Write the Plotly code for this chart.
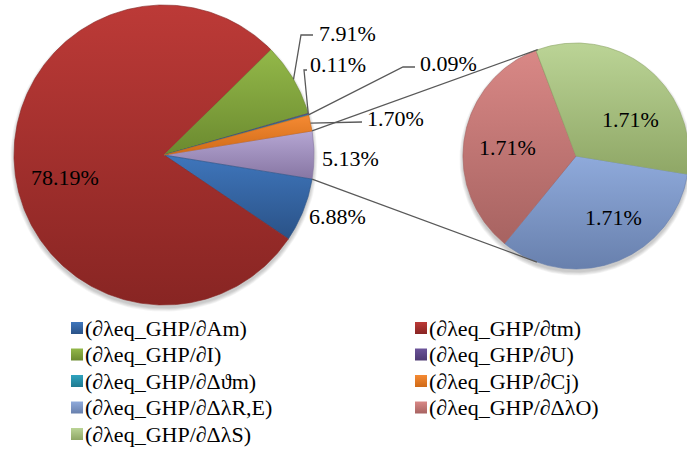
import numpy as np
import plotly.graph_objects as go

# ---- data -------------------------------------------------------------
series_names = [
    "(∂λeq_GHP/∂Am)", "(∂λeq_GHP/∂tm)", "(∂λeq_GHP/∂I)",
    "(∂λeq_GHP/∂U)", "(∂λeq_GHP/∂Δϑm)", "(∂λeq_GHP/∂Cj)",
    "(∂λeq_GHP/∂ΔλR,E)", "(∂λeq_GHP/∂ΔλO)", "(∂λeq_GHP/∂ΔλS)",
]
shares = [6.88, 78.19, 7.91, 0.11, 0.09, 1.70, 1.71, 1.71, 1.71]
n_secondary = 3  # last three series are split out into the side pie

# ---- style --------------------------------------------------------------
top_colors = ["#3F76BC", "#BC3A37", "#93B849", "#6C549A", "#2FA3BF",
              "#F58A33", "#8FAADB", "#D98886", "#BBD496"]
bottom_colors = ["#2A5287", "#882523", "#6B8A2F", "#4E3A73", "#1F7A90",
                 "#CF6A17", "#6880AD", "#A76361", "#8FA766"]
other_top, other_bottom = "#B5A6D3", "#8776A3"

FONT = "Times New Roman, Liberation Serif, serif"
LABEL_SIZE = 22
LEGEND_SIZE = 22
W, H = 687, 459

main_c = (164.0, 155.0)
main_r = 150.0
side_c = (576.0, 156.0)
side_r = 113.0

fig = go.Figure()


def pt(center, r, phi_deg):
    a = np.radians(phi_deg)
    return center[0] + r * np.cos(a), center[1] - r * np.sin(a)


def add_shadow(center, r):
    for k in range(5):
        t = np.linspace(0, 2 * np.pi, 181)
        rr = r + 3.5 - 0.8 * k
        fig.add_trace(go.Scatter(
            x=center[0] + rr * np.cos(t), y=center[1] + 3 + rr * np.sin(t),
            mode="lines", line=dict(width=0), fill="toself",
            fillcolor="rgba(0,0,0,0.045)", hoverinfo="skip", showlegend=False))


def add_slice(center, r, phi0, phi1, c_top, c_bot, name):
    span = abs(phi1 - phi0)
    n = max(2, int(span * 1.5) + 2)
    phis = np.linspace(phi0, phi1, n)
    xs, ys = pt(center, r, phis)
    x = np.concatenate([[center[0]], xs, [center[0]]])
    y = np.concatenate([[center[1]], ys, [center[1]]])
    # y axis is reversed, so the low end of the scale sits at the bottom
    fig.add_trace(go.Scatter(
        x=x, y=y, mode="lines", line=dict(width=0.6, color=c_bot),
        fill="toself",
        fillgradient=dict(type="vertical",
                          colorscale=[[0, c_bot], [1, c_top]]),
        name=name, hoverinfo="name", showlegend=False))


# ---- main pie: "other" slice centred on the right, then clockwise ----
main_vals = shares[:-n_secondary]
other_val = sum(shares[-n_secondary:])
main_total = other_val + sum(main_vals)
half = other_val / main_total * 180.0

add_shadow(main_c, main_r)
add_shadow(side_c, side_r)

phi = half
slice_mid = {}
add_slice(main_c, main_r, phi, phi - 2 * half, other_top, other_bottom, "other")
phi -= 2 * half
for i, v in enumerate(main_vals):
    sweep = v / main_total * 360.0
    add_slice(main_c, main_r, phi, phi - sweep, top_colors[i], bottom_colors[i],
              series_names[i])
    slice_mid[i] = phi - sweep / 2
    phi -= sweep

# ---- side pie ----------------------------------------------------------
side_vals = shares[-n_secondary:]
side_total = sum(side_vals)
phi = -half
for j, v in enumerate(side_vals):
    i = len(main_vals) + j
    sweep = v / side_total * 360.0
    add_slice(side_c, side_r, phi, phi - sweep, top_colors[i], bottom_colors[i],
              series_names[i])
    phi -= sweep

# ---- connector lines (tangents from the "other" slice edges) ----------
lx, ly = [], []
for sgn in (1, -1):
    p = pt(main_c, main_r, sgn * half)
    dx, dy = p[0] - side_c[0], -(p[1] - side_c[1])
    d = np.hypot(dx, dy)
    base = np.degrees(np.arctan2(dy, dx))
    off = np.degrees(np.arccos(side_r / d))
    q = pt(side_c, side_r, base - sgn * off)
    lx += [p[0], q[0], None]
    ly += [p[1], q[1], None]

# ---- leader lines for the small outside labels ------------------------
leaders = {
    2: [(301, 35), (313, 35)],
    3: [(304, 70), (307, 70)],
    4: [(403, 67), (415, 67)],
    5: [(362, 122)],
}
for i, bends in leaders.items():
    s = pt(main_c, main_r, slice_mid[i])
    lx += [s[0]] + [b[0] for b in bends] + [None]
    ly += [s[1]] + [b[1] for b in bends] + [None]

fig.add_trace(go.Scatter(x=lx, y=ly, mode="lines",
                         line=dict(color="#595959", width=1.3),
                         hoverinfo="skip", showlegend=False))

# ---- data labels -------------------------------------------------------
label_pos = {
    0: (307, 216, "left"),
    1: (65, 177, "center"),
    2: (317, 33, "left"),
    3: (308, 64, "left"),
    4: (418, 63, "left"),
    5: (365, 118, "left"),
    6: (613, 217, "center"),
    7: (507, 147, "center"),
    8: (630, 119, "center"),
}
for i, (x, y, anc) in label_pos.items():
    fig.add_annotation(x=x, y=y, text=f"{shares[i]:.2f}%", showarrow=False,
                       xanchor=anc, yanchor="middle",
                       font=dict(family=FONT, size=LABEL_SIZE, color="black"))
fig.add_annotation(x=320, y=158, text=f"{other_val:.2f}%", showarrow=False,
                   xanchor="left", yanchor="middle",
                   font=dict(family=FONT, size=LABEL_SIZE, color="black"))

# ---- legend: two columns, row-major -----------------------------------
col_x = [77, 421]
row_y0, row_dy = 328, 26.5
for i, nm in enumerate(series_names):
    cx = col_x[i % 2]
    cy = row_y0 + row_dy * (i // 2)
    fig.add_trace(go.Scatter(
        x=[cx], y=[cy], mode="markers",
        marker=dict(symbol="square", size=12, color=top_colors[i],
                    gradient=dict(type="vertical", color=bottom_colors[i]),
                    line=dict(width=0)),
        hoverinfo="skip", showlegend=False))
    fig.add_annotation(x=cx + 6, y=cy, text=nm, showarrow=False,
                       xanchor="left", yanchor="middle",
                       font=dict(family=FONT, size=LEGEND_SIZE, color="black"))

fig.update_layout(
    width=W, height=H,
    margin=dict(l=0, r=0, t=0, b=0),
    paper_bgcolor="white", plot_bgcolor="white",
    showlegend=False,
    xaxis=dict(range=[0, W], visible=False, fixedrange=True),
    yaxis=dict(range=[H, 0], visible=False, fixedrange=True),
)

fig.write_html("out.html")
